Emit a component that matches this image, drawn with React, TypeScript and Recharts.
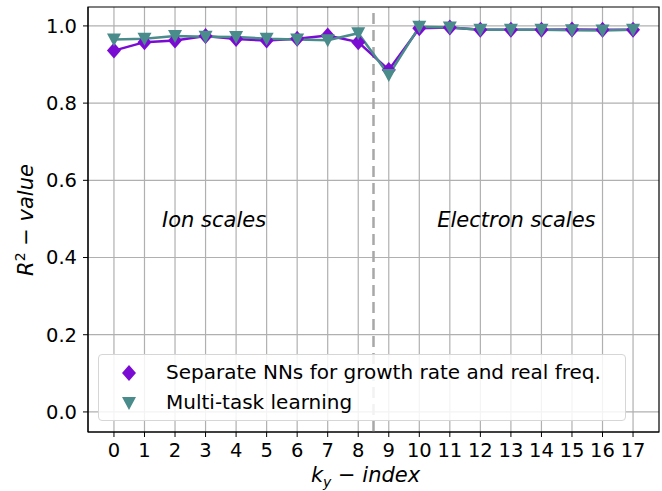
import { ComposedChart, Line, XAxis, YAxis, CartesianGrid, ReferenceLine, ReferenceArea, ReferenceDot, Label } from 'recharts';

// k_y index on the x axis
const kyIndex = [0, 1, 2, 3, 4, 5, 6, 7, 8, 9, 10, 11, 12, 13, 14, 15, 16, 17];
// R^2 values
const separateNN = [0.936, 0.958, 0.962, 0.974, 0.966, 0.962, 0.967, 0.975, 0.958, 0.886, 0.994, 0.996, 0.99, 0.99, 0.99, 0.991, 0.99, 0.99];
const multiTask = [0.965, 0.967, 0.974, 0.972, 0.971, 0.967, 0.965, 0.963, 0.981, 0.873, 0.998, 0.996, 0.99, 0.99, 0.99, 0.989, 0.988, 0.99];

const xTicks = kyIndex;
const yTicks = [0, 0.2, 0.4, 0.6, 0.8, 1.0];

const PURPLE = '#7A0BD3';
const TEAL = '#4A8B8B';
const FONT = '"DejaVu Sans", sans-serif';

const data = kyIndex.map((k, i) => ({ k, sep: separateNN[i], mtl: multiTask[i] }));

const Diamond = ({ cx, cy, color }: { cx: number; cy: number; color: string }) => (
  <polygon points={`${cx},${cy - 8} ${cx + 7},${cy} ${cx},${cy + 8} ${cx - 7},${cy}`} fill={color} />
);

const TriDown = ({ cx, cy, color }: { cx: number; cy: number; color: string }) => (
  <polygon points={`${cx - 7},${cy - 6} ${cx + 7},${cy - 6} ${cx},${cy + 7}`} fill={color} />
);

// matplotlib-style legend box, laid over the plot
const LegendBox = () => (
  <div
    style={{
      position: 'absolute',
      left: 98,
      top: 354,
      width: 528,
      height: 67,
      boxSizing: 'border-box',
      border: '1px solid #d6d6d6',
      borderRadius: 4,
      background: 'rgba(255,255,255,0.85)',
      fontFamily: FONT,
      fontSize: 20,
      lineHeight: '23px',
      color: '#000',
    }}
  >
    <svg width={40} height={66} style={{ position: 'absolute', left: 18, top: 0 }}>
      <Diamond cx={12} cy={18} color={PURPLE} />
      <TriDown cx={12} cy={48} color={TEAL} />
    </svg>
    <div style={{ position: 'absolute', left: 67, top: 6 }}>Separate NNs for growth rate and real freq.</div>
    <div style={{ position: 'absolute', left: 67, top: 36 }}>Multi-task learning</div>
  </div>
);

const regionText = (txt: string) => (p: any) => (
  <text x={p.cx} y={p.cy} textAnchor="middle" dominantBaseline="central" fontFamily={FONT} fontSize={21} fontStyle="italic" fill="#000">
    {txt}
  </text>
);

export default function App() {
  return (
    <div style={{ width: 662, height: 491, position: 'relative' }}>
      <style>{`body{margin:0}`}</style>
      <ComposedChart width={662} height={491} data={data} margin={{ top: 7, right: 3, bottom: 0, left: 0 }}>
        <CartesianGrid stroke="#b0b0b0" strokeWidth={1.2} horizontalValues={yTicks} verticalValues={xTicks} />
        <XAxis
          dataKey="k"
          type="number"
          domain={[-0.85, 17.85]}
          ticks={xTicks}
          interval={0}
          height={59}
          tickSize={5}
          tickMargin={6}
          tick={{ fontFamily: FONT, fontSize: 19.5, fill: '#000' }}
          tickLine={{ stroke: '#000' }}
          axisLine={{ stroke: '#000' }}
        >
          <Label
            content={(p: any) => {
              const vb = p.viewBox;
              return (
                <text x={vb.x + vb.width / 2 - 8} y={482} textAnchor="middle" fontFamily={FONT} fontSize={21} fontStyle="italic" fill="#000">
                  k<tspan dy={5} fontSize={14}>y</tspan>
                  <tspan dy={-5} fontStyle="normal"> − </tspan>index
                </text>
              );
            }}
          />
        </XAxis>
        <YAxis
          type="number"
          domain={[-0.052, 1.049]}
          ticks={yTicks}
          width={88}
          tickSize={5}
          tickMargin={6}
          tickFormatter={(v: number) => v.toFixed(1)}
          tick={{ fontFamily: FONT, fontSize: 19.5, fill: '#000' }}
          tickLine={{ stroke: '#000' }}
          axisLine={{ stroke: '#000' }}
        >
          <Label
            content={() => (
              <text x={33} y={220} transform="rotate(-90 33 220)" textAnchor="middle" fontFamily={FONT} fontSize={21} fontStyle="italic" fill="#000">
                R<tspan dy={-8} fontSize={14} fontStyle="normal">2</tspan>
                <tspan dy={8} fontStyle="normal"> − </tspan>value
              </text>
            )}
          />
        </YAxis>
        <ReferenceLine x={8.5} stroke="#a8a8a8" strokeWidth={2.5} strokeDasharray="11 6" />
        <ReferenceDot x={3.28} y={0.497} r={0} shape={regionText('Ion scales')} />
        <ReferenceDot x={13.18} y={0.497} r={0} shape={regionText('Electron scales')} />
        <Line
          dataKey="sep"
          stroke={PURPLE}
          strokeWidth={2.5}
          isAnimationActive={false}
          dot={(p: any) => <Diamond key={`d-${p.index}`} cx={p.cx} cy={p.cy} color={PURPLE} />}
          activeDot={false}
        />
        <Line
          dataKey="mtl"
          stroke={TEAL}
          strokeWidth={2.5}
          isAnimationActive={false}
          dot={(p: any) => <TriDown key={`t-${p.index}`} cx={p.cx} cy={p.cy} color={TEAL} />}
          activeDot={false}
        />
        <ReferenceArea x1={-0.85} x2={17.85} y1={-0.052} y2={1.049} fill="none" stroke="#000" strokeWidth={1.2} />
      </ComposedChart>
      <LegendBox />
    </div>
  );
}
